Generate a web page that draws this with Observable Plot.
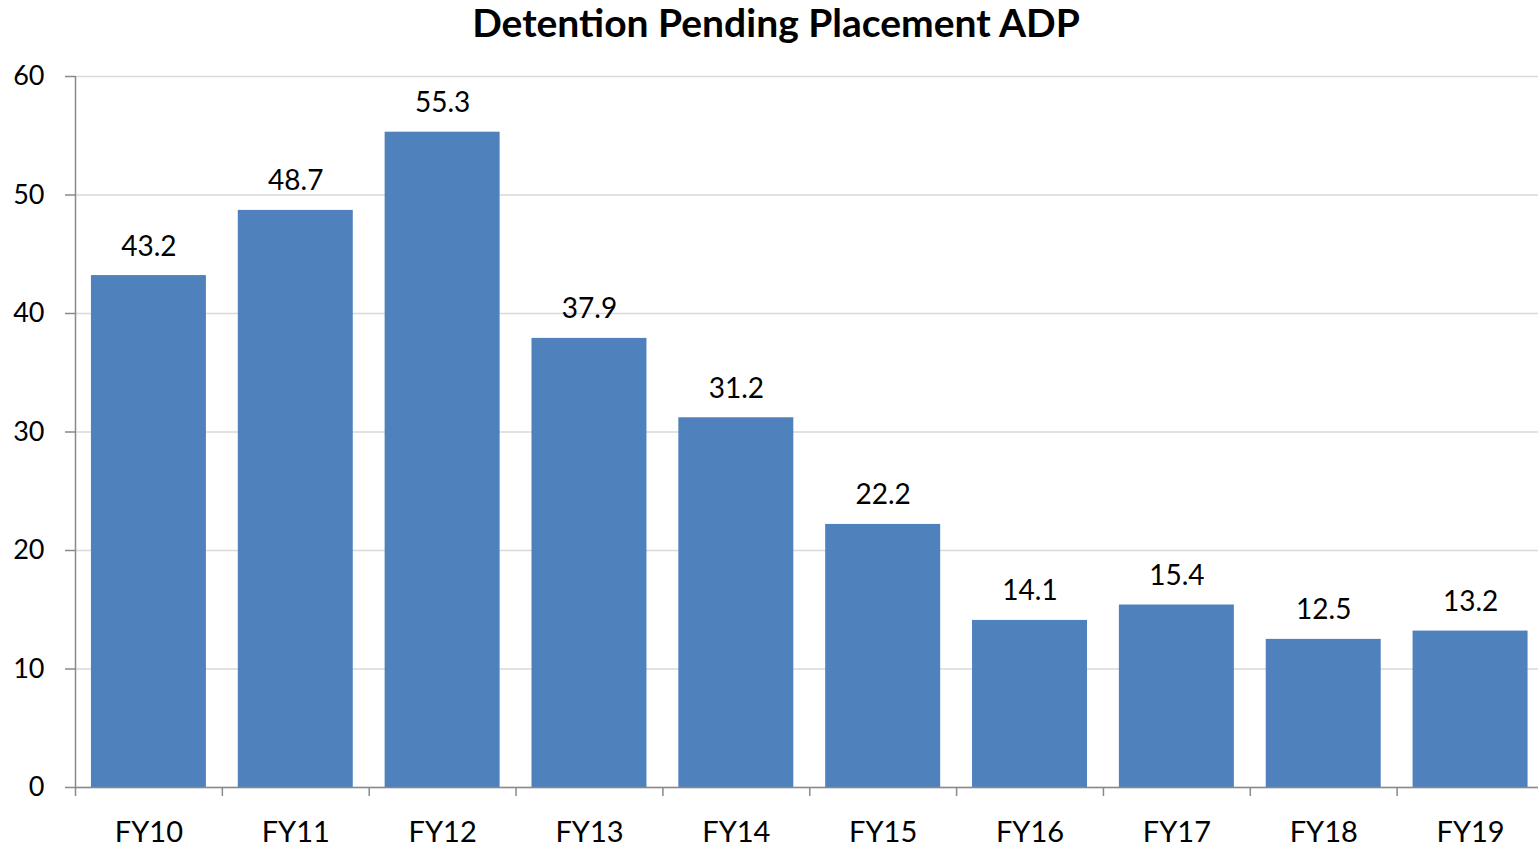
<!DOCTYPE html>
<html>
<head>
<meta charset="utf-8">
<script src="https://cdn.jsdelivr.net/npm/d3@7"></script>
<script src="https://cdn.jsdelivr.net/npm/@observablehq/plot@0.6"></script>
<style>
  html, body { margin: 0; padding: 0; background: #fff; }
  #title { height: 48px; line-height: 44px; text-align: center; padding-left: 14px;
           font-family: Lato, sans-serif; font-weight: 700; font-size: 39px; color: #000; white-space: nowrap; }
  #chart svg { display: block; }
</style>
</head>
<body>
<div id="title">Detention Pending Placement ADP</div>
<div id="chart"></div>
<script>
const categories = ["FY10","FY11","FY12","FY13","FY14","FY15","FY16","FY17","FY18","FY19"];
const values = [43.2, 48.7, 55.3, 37.9, 31.2, 22.2, 14.1, 15.4, 12.5, 13.2];
const labels = ["43.2","48.7","55.3","37.9","31.2","22.2","14.1","15.4","12.5","13.2"];
const yTicks = [0, 10, 20, 30, 40, 50, 60];

const data = categories.map((c, i) => ({cat: c, value: values[i], label: labels[i]}));

const W = 1538, H = 802;
const mL = 75, mR = -5.5, mT = 28, mB = 63;
const step = (W - mL - mR) / categories.length;
const font = "Lato, sans-serif";

const chart = Plot.plot({
  width: W,
  height: H,
  marginLeft: mL,
  marginRight: mR,
  marginTop: mT,
  marginBottom: mB,
  style: {fontFamily: font, background: "#fff", color: "#000"},
  x: {domain: categories, paddingInner: 0.217, paddingOuter: 0.1085, round: false, label: null},
  y: {domain: [0, 60], ticks: yTicks, label: null},
  marks: [
    Plot.gridY(yTicks, {stroke: "#d9d9d9", strokeOpacity: 1, strokeWidth: 1.5}),
    Plot.barY(data, {x: "cat", y: "value", fill: "#4f81bd"}),
    Plot.ruleY([0], {stroke: "#898989", strokeWidth: 1.5}),
    Plot.ruleX([categories[0]], {dx: -step / 2, stroke: "#898989", strokeWidth: 1.5}),
    Plot.axisY(yTicks, {tickSize: 10, tickPadding: 21, fontSize: 27, stroke: "#898989", strokeWidth: 1.5, fill: "#000", label: null}),
    Plot.axisX({tickSize: 9, text: null, dx: -step / 2, stroke: "#898989", strokeWidth: 1.5, label: null}),
    Plot.axisX({tickSize: 0, tickPadding: 34, fontSize: 29, fill: "#000", label: null}),
    Plot.text(data, {x: "cat", y: "value", text: "label", lineAnchor: "bottom", dy: -20, fontSize: 28, fill: "#000"})
  ]
});
document.getElementById("chart").appendChild(chart);
</script>
</body>
</html>
